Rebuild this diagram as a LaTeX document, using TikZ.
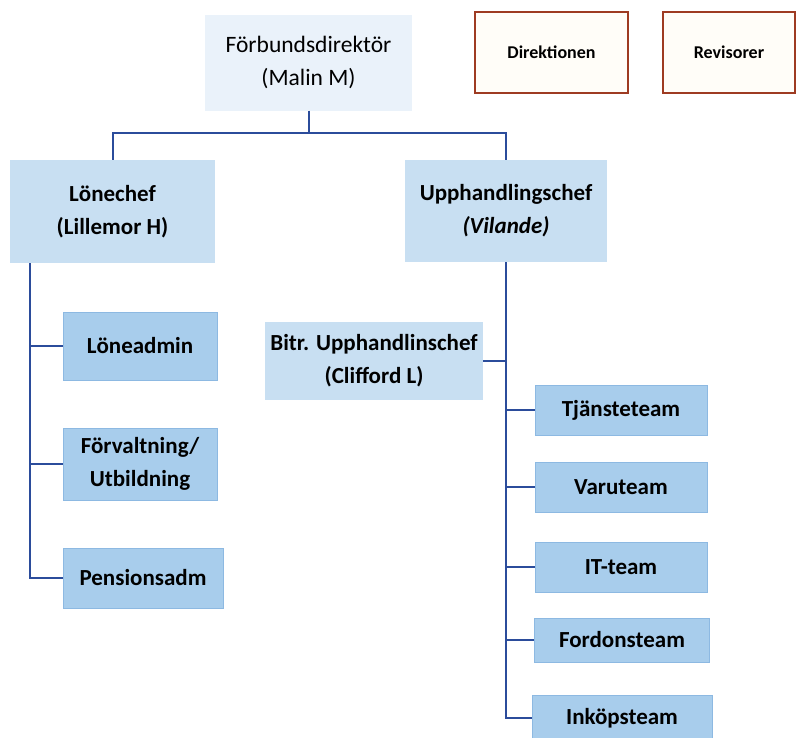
\documentclass[tikz,border=0pt]{standalone}
\usepackage{fontspec}
\setmainfont{Carlito}
\definecolor{linecol}{HTML}{2B4C9B}
\definecolor{topfill}{HTML}{EAF2FA}
\definecolor{midfill}{HTML}{C8DFF2}
\definecolor{subfill}{HTML}{A8CDEC}
\definecolor{subdraw}{HTML}{8DB9E2}
\definecolor{boarddraw}{HTML}{9E3B22}
\definecolor{boardfill}{HTML}{FFFDF8}
\tikzset{
  unit/.style={align=center,inner sep=2pt,font=\bfseries\fontsize{23}{33}\selectfont},
  topbox/.style={unit,fill=topfill,font=\fontsize{23.5}{33}\selectfont},
  midbox/.style={unit,fill=midfill},
  subbox/.style={unit,fill=subfill,draw=subdraw,line width=0.6pt},
  boardbox/.style={unit,fill=boardfill,draw=boarddraw,line width=1.6pt,font=\bfseries\fontsize{18}{22}\selectfont},
  trunk/.style={draw=linecol,line width=2pt},
  branch/.style={draw=linecol,line width=1.4pt}
}

\begin{document}
\begin{tikzpicture}[x=1pt,y=-1pt]
\useasboundingbox (0,0) rectangle (798,737);
% ledning
\node[topbox,minimum width=207pt,minimum height=96pt] (dir) at (308.5,62.5) {Förbundsdirektör\\(Malin M)};
\node[boardbox,minimum width=153pt,minimum height=81pt] (direk) at (551.5,52.5) {Direktionen};
\node[boardbox,minimum width=132pt,minimum height=81pt] (rev) at (729,52.5) {Revisorer};
% chefer
\node[midbox,minimum width=205pt,minimum height=103pt] (lon) at (112.5,211.5) {Lönechef\\(Lillemor H)};
\node[midbox,minimum width=202pt,minimum height=102pt] (upp) at (506,211) {Upphandlingschef\\\textit{(Vilande)}};
\node[midbox,minimum width=218pt,minimum height=78pt] (bitr) at (374,361) {Bitr. Upphandlinschef\\(Clifford L)};
% lön
\node[subbox,minimum width=154pt,minimum height=68pt] (loneadmin) at (140,346) {Löneadmin};
\node[subbox,minimum width=154pt,minimum height=72pt] (forv) at (140,464) {Förvaltning/\\Utbildning};
\node[subbox,minimum width=160pt,minimum height=60pt] (pens) at (143,578) {Pensionsadm};
% upphandling
\node[subbox,minimum width=172pt,minimum height=50pt] (tjan) at (621,410) {Tjänsteteam};
\node[subbox,minimum width=172pt,minimum height=50pt] (varu) at (621,487) {Varuteam};
\node[subbox,minimum width=172pt,minimum height=50pt] (it) at (621,567) {IT-team};
\node[subbox,minimum width=175pt,minimum height=44pt] (ford) at (622,640) {Fordonsteam};
\node[subbox,minimum width=180pt,minimum height=46pt] (inkop) at (622,718) {Inköpsteam};
% linjer
\coordinate (bus) at (0,133);
\coordinate (lspine) at ([xshift=20pt]lon.south west);
\draw[trunk] (dir.south) -- (dir.south |- bus);
\draw[trunk] (lon.north) -- (lon.north |- bus) -- (upp.north |- bus) -- (upp.north);
\draw[trunk] (lspine) |- (pens.west);
\draw[trunk] (upp.south) |- (inkop.west);
\foreach \n in {loneadmin,forv}
  \draw[branch] (\n.west) -- (\n.west -| lspine);
\foreach \n in {tjan,varu,it,ford}
  \draw[branch] (\n.west) -- (\n.west -| upp.south);
\draw[branch] (bitr.east) -- (bitr.east -| upp.south);
\end{tikzpicture}
\end{document}
